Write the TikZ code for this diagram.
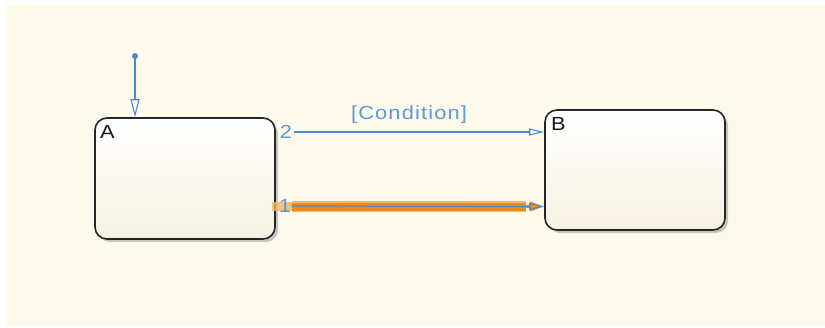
\documentclass[tikz,border=0pt]{standalone}
\usepackage{fontspec}
\setmainfont{Liberation Sans}[FakeStretch=1.15, LetterSpace=6]
\usetikzlibrary{arrows.meta,shadows}
\definecolor{bgcream}{HTML}{FEFAEB}
\definecolor{statebot}{HTML}{F6F2E2}
\definecolor{tblue}{HTML}{4A8BD0}
\definecolor{lblue}{HTML}{5C9BD8}
\definecolor{hlorange}{HTML}{EC8A1C}
\definecolor{hllight}{HTML}{F4B564}
\tikzset{
  statebox/.style={draw=black!85, line width=1.6pt, rounded corners=12pt,
    top color=white, bottom color=statebot,
    drop shadow={shadow xshift=3pt, shadow yshift=-3pt, opacity=0.35, fill=black!60},
    inner sep=0pt},
  statename/.style={font=\fontsize{19}{22}\selectfont, text=black!90, inner sep=0pt, anchor=north west},
  translabel/.style={font=\fontsize{19}{22}\selectfont, text=lblue, inner sep=0pt},
  trans/.style={draw=tblue, line width=1.2pt, -{Triangle[open, length=15pt, width=7pt, line width=1.1pt]}},
  deftrans/.style={draw=tblue, line width=1.2pt, -{Triangle[open, length=18pt, width=9pt, line width=1.1pt]}},
}
\begin{document}
\begin{tikzpicture}[x=1pt,y=-1pt]
\useasboundingbox (0,0) rectangle (825,327);
\fill[white] (0,0) rectangle (825,327);
\fill[bgcream] (6,5) rectangle (825,326);
% states
\node[statebox, minimum width=180pt, minimum height=121pt] (A) at (185,178.5) {};
\node[statebox, minimum width=180pt, minimum height=120pt] (B) at (635,170) {};
\node[statename] (Aname) at (100,125) {A};
\node[statename] (Bname) at (551,117) {B};
% default transition
\fill[tblue] (135,56) circle (3pt) coordinate (init);
\draw[deftrans] (init) -- (A.north -| init);
% transition 2
\node[translabel] (n2) at (286,132) {2};
\node[translabel] (cond) at (409,115) {[Condition]};
\draw[trans, shorten <=2pt] (n2.east) -- (B.west |- n2);
% transition 1 (highlighted)
\coordinate (t1s) at (A.east |- 0,206.5);
\fill[hllight, opacity=0.8] (272,202) rectangle (292,211);
\draw[hllight, line width=11pt] (292,206.5) -- (526,206.5) coordinate (t1e);
\draw[hlorange, line width=8pt] (292,206.5) -- (t1e);
\draw[hlorange, line width=3pt, -{Triangle[open, length=14pt, width=9pt]}] (t1e) -- (B.west |- t1s);
\node[translabel, text=lblue!80!gray] (n1) at (285,206) {1};
\draw[trans, draw=tblue!85!gray] (n1.east) -- (B.west |- t1s);
\end{tikzpicture}
\end{document}
